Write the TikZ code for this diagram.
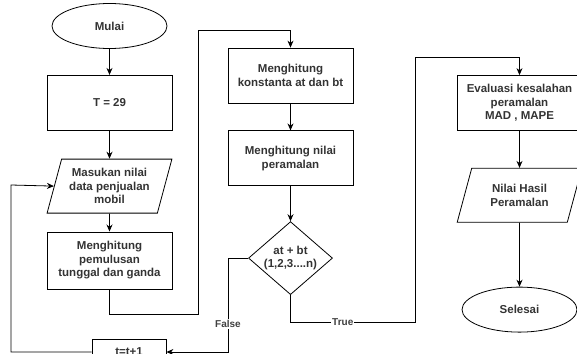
\documentclass[tikz,border=0pt]{standalone}
\usepackage{fontspec}
\setmainfont{Liberation Sans}
\usepackage{tikz}
\usetikzlibrary{positioning,shapes.geometric,arrows.meta}
\tikzset{
  flow/.style={draw=black,line width=0.8pt,font=\bfseries\fontsize{11.5}{13.5}\selectfont,text=black!80,align=center,inner sep=2pt},
  startstop/.style={flow,shape=ellipse,minimum width=115,minimum height=45},
  process/.style={flow,shape=rectangle,minimum width=125,minimum height=55},
  io/.style={flow,shape=trapezium,trapezium left angle=72,trapezium right angle=108,trapezium stretches=true,minimum width=125,minimum height=54},
  decision/.style={flow,shape=diamond,minimum width=84,minimum height=73,inner sep=0pt},
  arrow/.style={draw=black,line width=0.8pt,-{Stealth[length=7pt,width=6pt]}},
  line/.style={draw=black,line width=0.8pt},
  edgelabel/.style={fill=white,inner sep=1pt,font=\bfseries\fontsize{10}{12}\selectfont,text=black!75}
}

\begin{document}
\begin{tikzpicture}[x=1pt,y=1pt,node distance=27pt]
    \useasboundingbox (0,0) rectangle (577,-353);
    \clip (0,0) rectangle (577,-353);
    % first column
    \node[startstop] (mulai) at (109.5,-26) {Mulai};
    \node[process,below=26pt of mulai] (tawal) {T = 29};
    \node[io,below=28pt of tawal] (masukan) {Masukan nilai\\data penjualan\\mobil};
    \node[process,below=18pt of masukan,minimum height=57] (pemulusan) {Menghitung\\pemulusan\\tunggal dan ganda};
    \node[process,minimum width=74,minimum height=26] (tplus) at (129,-352) {t=t+1};
    % second column
    \node[process] (konstanta) at (290.5,-75.5) {Menghitung\\konstanta at dan bt};
    \node[process,below=of konstanta] (nilai) {Menghitung nilai\\peramalan};
    \node[decision,below=35pt of nilai] (cek) {\makebox[0pt]{at + bt}\\\makebox[0pt]{(1,2,3....n)}};
    % third column
    \node[process] (evaluasi) at (519.5,-103) {Evaluasi kesalahan\\peramalan\\MAD , MAPE};
    \node[io,below=37pt of evaluasi,trapezium left angle=70,trapezium right angle=110] (hasil) {Nilai Hasil\\Peramalan};
    \node[startstop,below=64pt of hasil] (selesai) {Selesai};

    \coordinate (b1) at (198,-30);
    \coordinate (b2) at (228,-352);
    \coordinate (b3) at (415,-57);
    \coordinate (b4) at (11,-185);

    \draw[arrow] (mulai) -- (tawal);
    \draw[arrow] (tawal) -- (masukan);
    \draw[arrow] (masukan) -- (pemulusan);
    \draw[arrow] (pemulusan.south) -- ++(0,-25) -| (b1) -| (konstanta.north);
    \draw[arrow] (konstanta) -- (nilai);
    \draw[arrow] (nilai) -- (cek);
    \draw[arrow] (cek.west) -| node[edgelabel,pos=0.85] {False} (b2) -- (tplus.east);
    \draw[arrow] (cek.south) -- ++(0,-27) -| node[edgelabel,pos=0.21] {True} (b3) -| (evaluasi.north);
    \draw[arrow] (tplus.west) -| (b4) -- (masukan.west);
    \draw[arrow] (evaluasi) -- (hasil);
    \draw[arrow] (hasil) -- (selesai);
  \end{tikzpicture}
\end{document}
